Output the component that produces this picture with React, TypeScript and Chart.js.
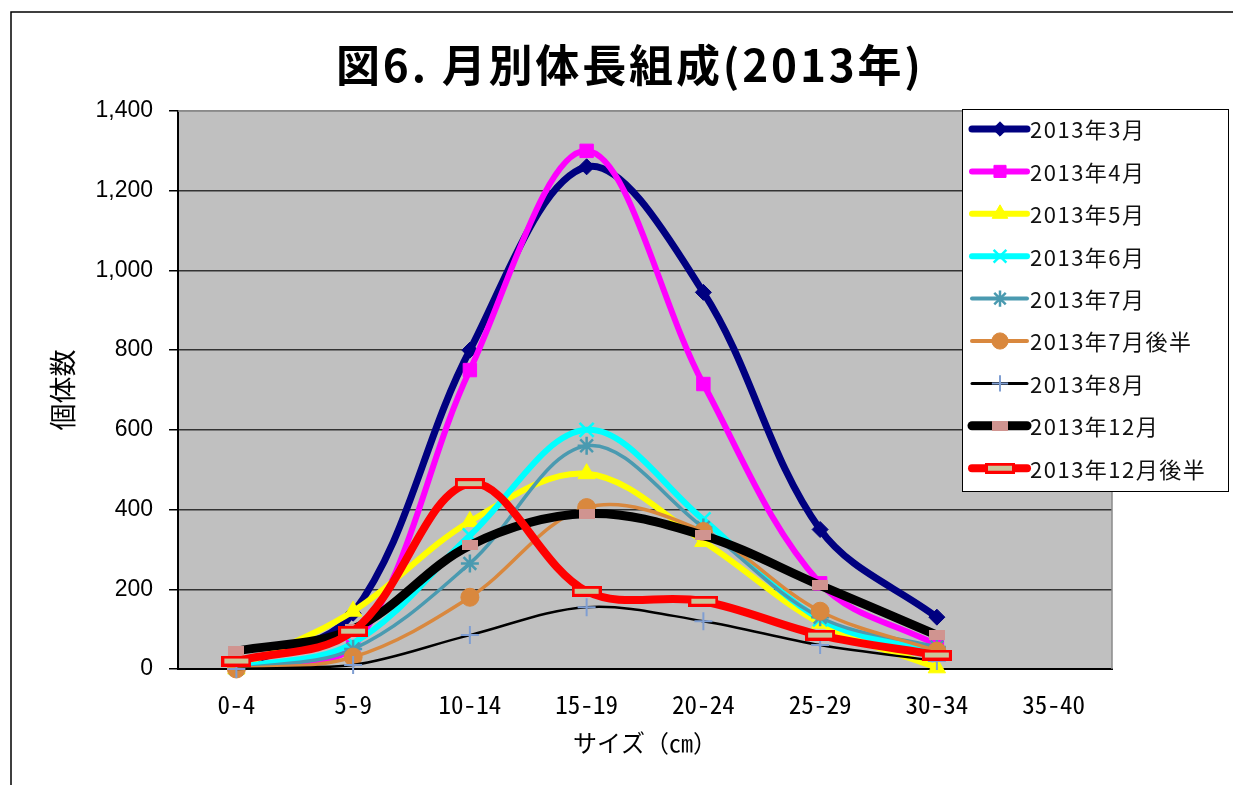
import React, { useEffect, useRef } from 'react';
import { Chart, registerables } from 'chart.js';
import { drawPoint } from 'chart.js/helpers';

Chart.register(...registerables);

// ---- data ----
const categories = ['0-4', '5-9', '10-14', '15-19', '20-24', '25-29', '30-34', '35-40'];
const seriesNames = [
  '2013年3月', '2013年4月', '2013年5月', '2013年6月', '2013年7月',
  '2013年7月後半', '2013年8月', '2013年12月', '2013年12月後半',
];
const mar = [5, 140, 800, 1260, 945, 350, 130, null];
const apr = [3, 55, 750, 1300, 715, 215, 60, null];
const may = [0, 145, 370, 490, 320, 115, 3, null];
const jun = [3, 65, 335, 600, 375, 125, 40, null];
const jul = [0, 50, 265, 560, 355, 130, 55, null];
const julLate = [0, 30, 180, 405, 345, 145, 45, null];
const aug = [0, 10, 85, 155, 120, 60, 20, null];
const dec = [45, 100, 310, 390, 335, 210, 85, null];
const decLate = [20, 95, 465, 195, 170, 85, 35, null];
const seriesValues = [mar, apr, may, jun, jul, julLate, aug, dec, decLate];
const yMax = 1400;
const yStep = 200;

const titleText = '図6. 月別体長組成(2013年)';
const xTitle = 'サイズ（㎝）';
const yTitle = '個体数';

const W = 1233;
const H = 785;
const JP = '"Noto Sans CJK JP", "Noto Sans", sans-serif';

function makeRectMarker(w: number, h: number, outer: string, inner: string | null, ih = 0, iw = 0) {
  const c = document.createElement('canvas');
  c.width = w;
  c.height = h;
  const g = c.getContext('2d')!;
  g.fillStyle = outer;
  g.fillRect(0, 0, w, h);
  if (inner) {
    g.fillStyle = inner;
    g.fillRect((w - iw) / 2, (h - ih) / 2, iw, ih);
  }
  return c;
}

export default function App() {
  const ref = useRef<HTMLCanvasElement | null>(null);

  useEffect(() => {
    const canvas = ref.current;
    if (!canvas) return;

    const pinkMarker = makeRectMarker(16, 10, '#D09490', null);
    const redMarker = makeRectMarker(30, 11, '#FF0000', '#C9C59A', 5, 24);

    const styles = [
      { color: '#000080', width: 7, legendWidth: 7, point: 'rectRot', radius: 8, fill: '#000080', stroke: '#000080', bw: 1 },
      { color: '#FF00FF', width: 6, legendWidth: 6, point: 'rect', radius: 9.5, fill: '#FF00FF', stroke: '#FF00FF', bw: 1 },
      { color: '#FFFF00', width: 6, legendWidth: 6, point: 'triangle', radius: 10, fill: '#FFFF00', stroke: '#FFFF00', bw: 1 },
      { color: '#00FFFF', width: 6, legendWidth: 6, point: 'crossRot', radius: 10, fill: '#00FFFF', stroke: '#00FFFF', bw: 2.5 },
      { color: '#4A9AB0', width: 3.5, legendWidth: 4, point: 'star', radius: 9, fill: '#4A9AB0', stroke: '#4A9AB0', bw: 2.5 },
      { color: '#D9883E', width: 3.5, legendWidth: 4, point: 'circle', radius: 9, fill: '#D9883E', stroke: '#D9883E', bw: 1 },
      { color: '#000000', width: 2.5, legendWidth: 3, point: 'cross', radius: 9, fill: '#7F9ED2', stroke: '#7F9ED2', bw: 2 },
      { color: '#000000', width: 9, legendWidth: 9, point: pinkMarker as any, radius: 8, fill: '#D09490', stroke: '#D09490', bw: 0 },
      { color: '#FF0000', width: 8, legendWidth: 8, point: redMarker as any, radius: 8, fill: '#FF0000', stroke: '#FF0000', bw: 0 },
    ];

    const datasets = seriesNames.map((name, i) => {
      const s = styles[i];
      return {
        label: name,
        data: seriesValues[i],
        borderColor: s.color,
        backgroundColor: s.color,
        borderWidth: s.width,
        pointStyle: s.point,
        pointRadius: s.radius,
        pointBackgroundColor: s.fill,
        pointBorderColor: s.stroke,
        pointBorderWidth: s.bw,
        tension: 0.35,
        fill: false,
        clip: false as any,
        order: seriesNames.length - i,
        borderCapStyle: 'round' as const,
        borderJoinStyle: 'round' as const,
      };
    });

    const framePlugin = {
      id: 'framePlugin',
      beforeDraw(chart: any) {
        const { ctx, chartArea: a } = chart;
        ctx.save();
        ctx.fillStyle = '#FFFFFF';
        ctx.fillRect(0, 0, W, H);
        ctx.fillStyle = '#C0C0C0';
        ctx.fillRect(a.left, a.top, a.right - a.left, a.bottom - a.top);
        // outer frame
        ctx.strokeStyle = '#000';
        ctx.lineWidth = 1.5;
        ctx.beginPath();
        ctx.moveTo(11, H);
        ctx.lineTo(11, 12);
        ctx.lineTo(W, 12);
        ctx.stroke();
        // title
        ctx.fillStyle = '#000';
        ctx.font = `bold 44px ${JP}`;
        ctx.textBaseline = 'middle';
        ctx.textAlign = 'left';
        const n = [...titleText].length;
        const w0 = ctx.measureText(titleText).width;
        const target = 585;
        const ls = Math.max(0, (target - w0) / (n - 1));
        (ctx as any).letterSpacing = `${ls}px`;
        ctx.fillText(titleText, 336, 65);
        (ctx as any).letterSpacing = '0px';
        ctx.restore();
      },
      beforeDatasetsDraw(chart: any) {
        const { ctx, chartArea: a } = chart;
        ctx.save();
        ctx.strokeStyle = '#8A8A8A';
        ctx.lineWidth = 1.5;
        ctx.beginPath();
        ctx.moveTo(a.left, a.top);
        ctx.lineTo(a.right, a.top);
        ctx.lineTo(a.right, a.bottom);
        ctx.stroke();
        ctx.restore();
      },
      afterDraw(chart: any) {
        const { ctx } = chart;
        ctx.save();
        const bx = 962, by = 109, bw = 266, bh = 382;
        ctx.fillStyle = '#FFFFFF';
        ctx.fillRect(bx, by, bw, bh);
        ctx.strokeStyle = '#000';
        ctx.lineWidth = 1;
        ctx.strokeRect(bx + 0.5, by + 0.5, bw, bh);
        ctx.font = `22px ${JP}`;
        ctx.textBaseline = 'middle';
        ctx.textAlign = 'left';
        (ctx as any).letterSpacing = '1.5px';
        seriesNames.forEach((name, i) => {
          const s = styles[i];
          const cy = by + 20 + i * 42.4;
          ctx.strokeStyle = s.color;
          ctx.lineWidth = s.legendWidth;
          ctx.lineCap = 'round';
          ctx.beginPath();
          ctx.moveTo(972, cy);
          ctx.lineTo(1027, cy);
          ctx.stroke();
          ctx.fillStyle = s.fill;
          ctx.strokeStyle = s.stroke;
          ctx.lineWidth = s.bw;
          ctx.lineCap = 'butt';
          drawPoint(ctx, { pointStyle: s.point, rotation: 0, radius: s.radius * 0.9, borderWidth: s.bw } as any, 1000, cy);
          ctx.fillStyle = '#111';
          ctx.fillText(name, 1030, cy + 1);
        });
        (ctx as any).letterSpacing = '0px';
        ctx.restore();
      },
    };

    const chart = new Chart(canvas, {
      type: 'line',
      data: { labels: categories, datasets: datasets as any },
      options: {
        animation: false,
        responsive: false,
        devicePixelRatio: 1,
        events: [],
        layout: { padding: { left: 0, right: W - 1112, top: 111, bottom: 0 } },
        plugins: {
          legend: { display: false },
          title: { display: false },
          tooltip: { enabled: false },
        },
        scales: {
          x: {
            type: 'category',
            offset: true,
            grid: { display: true, drawOnChartArea: false, drawTicks: false },
            border: { display: true, color: '#000', width: 2 },
            ticks: {
              color: '#000',
              padding: 20,
              maxRotation: 0,
              autoSkip: false,
              font: { family: '"Noto Sans Mono CJK JP", "DejaVu Sans Mono", monospace', size: 25 },
            },
            title: {
              display: true,
              text: xTitle,
              color: '#000',
              font: { family: JP, size: 24 },
              padding: { top: 0, bottom: 28 },
            },
            afterFit(scale: any) {
              scale.height = H - 669;
            },
          },
          y: {
            min: 0,
            max: yMax,
            grid: {
              color: (c: any) => (c.tick && c.tick.value === yMax ? '#8A8A8A' : '#333333'),
              lineWidth: 1.5,
              tickColor: '#000',
              tickLength: 9,
            },
            border: { display: true, color: '#000', width: 2 },
            ticks: {
              stepSize: yStep,
              color: '#000',
              padding: 16,
              font: { family: '"Liberation Sans", Arial, sans-serif', size: 23 },
              callback: (v: any) => Number(v).toLocaleString('en-US'),
            },
            title: {
              display: true,
              text: yTitle,
              color: '#000',
              font: { family: JP, size: 27 },
              padding: { top: 47, bottom: 0 },
            },
            afterFit(scale: any) {
              scale.width = 178;
            },
          },
        },
      },
      plugins: [framePlugin],
    });

    return () => {
      chart.destroy();
    };
  }, []);

  return (
    <div style={{ position: 'fixed', left: 0, top: 0, width: W, height: H, background: '#fff' }}>
      <canvas ref={ref} width={W} height={H} style={{ display: 'block', width: W, height: H }} />
    </div>
  );
}
